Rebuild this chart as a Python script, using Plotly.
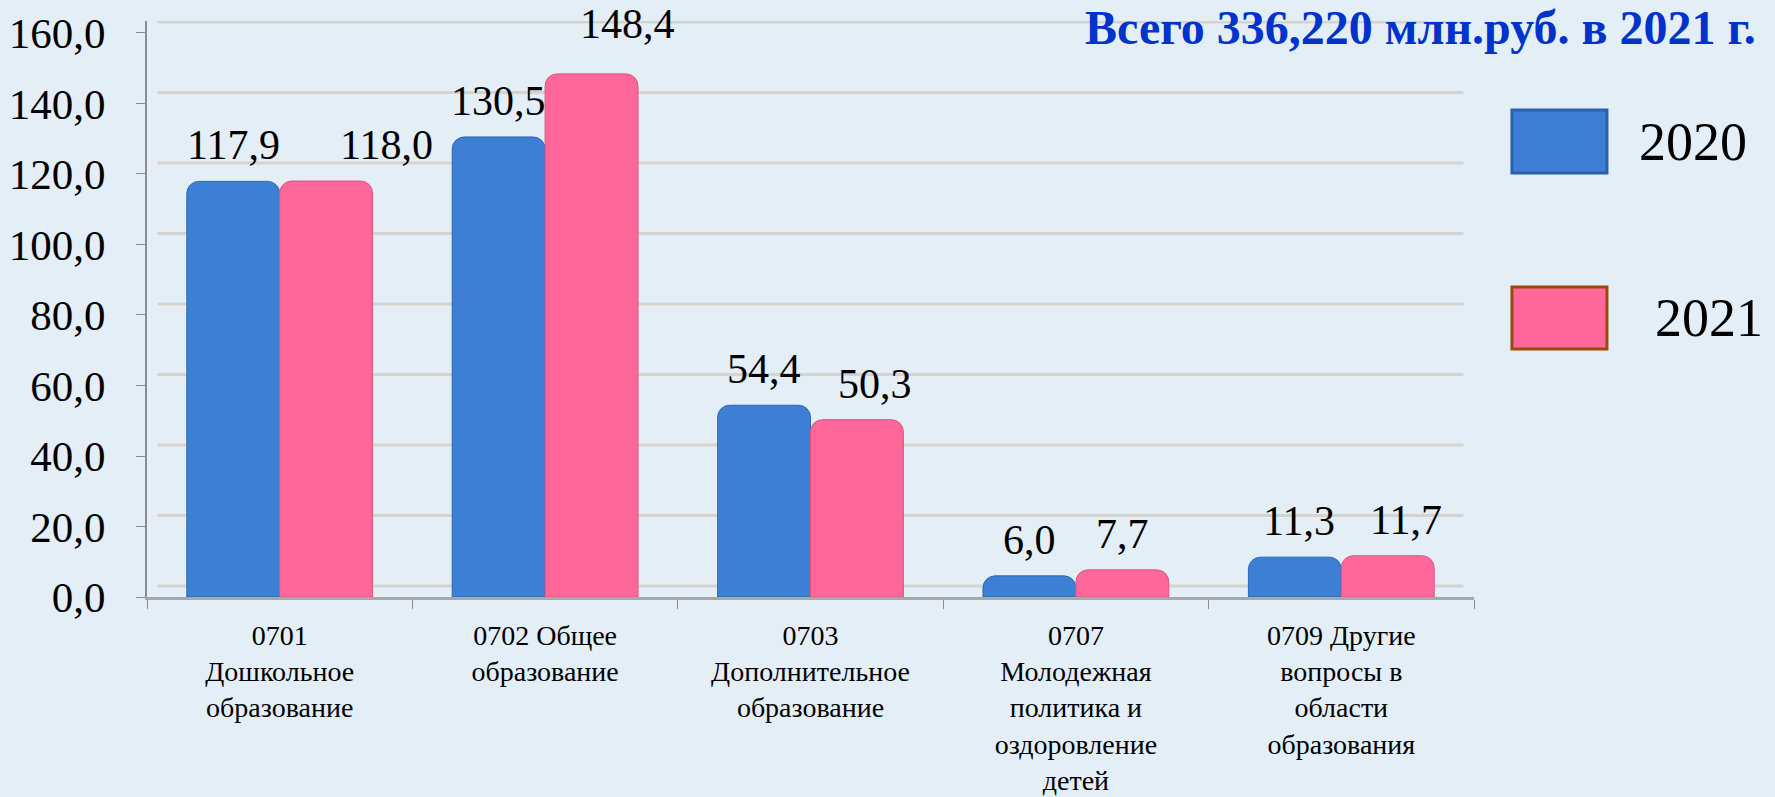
import plotly.graph_objects as go

# budget by section, mln rub
categories = [
    "0701<br>Дошкольное<br>образование",
    "0702 Общее<br>образование",
    "0703<br>Дополнительное<br>образование",
    "0707<br>Молодежная<br>политика и<br>оздоровление<br>детей",
    "0709 Другие<br>вопросы в<br>области<br>образования",
]
series_names = ["2020", "2021"]
values_2020 = [117.9, 130.5, 54.4, 6.0, 11.3]
values_2021 = [118.0, 148.4, 50.3, 7.7, 11.7]
y_ticks = [0, 20, 40, 60, 80, 100, 120, 140, 160]
title_text = "Всего 336,220 млн.руб. в 2021 г."

serif = "Liberation Serif, Times New Roman, serif"
blue = "#3D7FD4"
pink = "#FF6699"
bg = "#E3EEF6"

# label nudges (px) so the value labels sit like on the slide
label_dx = [[0, 0, 0, 0, 4], [60, 36, 18, 0, 18]]
label_dy = [[0, 0, 0, 0, 0], [0, 14, 0, 0, 0]]
bar_half = 46.5

fig = go.Figure()
annotations = []
for k, (name, vals, col, edge) in enumerate([
    (series_names[0], values_2020, blue, "#2C66B5"),
    (series_names[1], values_2021, pink, "#D9577F"),
]):
    fig.add_trace(go.Bar(
        x=categories, y=vals, name=name,
        marker=dict(color=col, line=dict(color=edge, width=1), cornerradius=12),
    ))
    side = -1 if k == 0 else 1
    for i, (c, v) in enumerate(zip(categories, vals)):
        annotations.append(dict(
            x=c, y=v, xref="x", yref="y", xanchor="center", yanchor="bottom",
            xshift=side * bar_half + label_dx[k][i], yshift=11 + label_dy[k][i],
            showarrow=False, text=f"{v:.1f}".replace(".", ","),
            font=dict(family=serif, size=42, color="black"),
        ))

shapes = []
# back-wall grid, a few px above the tick marks like the 3D slide
for t in y_ticks:
    shapes.append(dict(type="line", layer="below", xref="paper", yref="y",
                       ysizemode="pixel", yanchor=t, y0=11, y1=11,
                       x0=0.008, x1=0.992, line=dict(color="#D6D3CE", width=3)))

# hand-made legend (big boxes like the slide)
legend_boxes = [
    dict(y0=0.7361, y1=0.8455, fill=blue, edge="#2A62A8", tx=1.123, ty=0.790),
    dict(y0=0.4306, y1=0.5382, fill=pink, edge="#9C4A0A", tx=1.135, ty=0.484),
]
for name, b in zip(series_names, legend_boxes):
    shapes.append(dict(type="rect", xref="paper", yref="paper",
                       x0=1.0286, x1=1.1002, y0=b["y0"], y1=b["y1"],
                       fillcolor=b["fill"], line=dict(color=b["edge"], width=3)))
    annotations.append(dict(xref="paper", yref="paper", x=b["tx"], y=b["ty"],
                            xanchor="left", yanchor="middle", showarrow=False,
                            text=name, font=dict(family=serif, size=54, color="black")))

annotations.append(dict(xref="paper", yref="paper", x=1.214, y=0.988,
                        xanchor="right", yanchor="middle", showarrow=False,
                        text="<b>" + title_text + "</b>",
                        font=dict(family=serif, size=48, color="#0033CC")))

fig.update_layout(
    width=1775, height=797,
    margin=dict(l=147, r=301, t=21, b=200),
    paper_bgcolor=bg, plot_bgcolor="rgba(0,0,0,0)",
    barmode="group", bargap=0.30, bargroupgap=0,
    showlegend=False, separators=", ",
    shapes=shapes, annotations=annotations,
    xaxis=dict(
        automargin=False,
        showline=True, linecolor="#A8A8A8", linewidth=3,
        ticks="outside", tickson="boundaries", ticklen=9, tickcolor="#8C8C8C",
        ticklabelstandoff=11,
        tickfont=dict(family=serif, size=28, color="black"),
    ),
    yaxis=dict(
        automargin=False,
        range=[0, 163.4], tickvals=y_ticks, tickformat=".1f",
        showgrid=False, zeroline=False,
        showline=True, linecolor="#8C8C8C", linewidth=2,
        ticks="outside", ticklen=9, tickcolor="#8C8C8C", ticklabelstandoff=22,
        tickfont=dict(family=serif, size=43, color="black"),
    ),
)

# drop the page margin so the figure fills the window
fig.write_html(
    "out.html",
    config={"displayModeBar": False},
    post_script="document.body.style.margin='0';document.body.style.background='" + bg + "';",
)
